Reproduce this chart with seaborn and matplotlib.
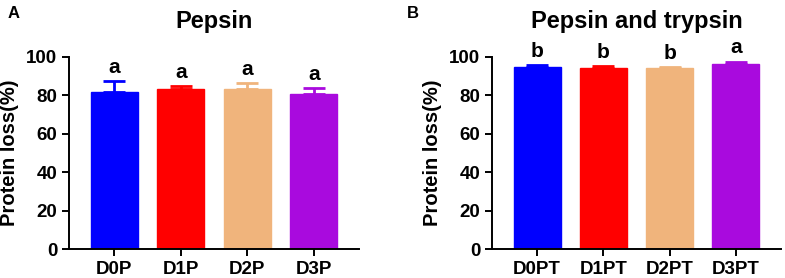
import matplotlib
matplotlib.use("Agg")
import matplotlib.pyplot as plt
import seaborn as sns
import pandas as pd

sns.set_style("ticks")
plt.rcParams['font.family'] = ['Liberation Sans', 'DejaVu Sans']
plt.rcParams['font.weight'] = 'bold'
plt.rcParams['text.color'] = 'black'
plt.rcParams['axes.labelcolor'] = 'black'

cats_a = ["D0P", "D1P", "D2P", "D3P"]
vals_a = [81.9, 83.1, 83.3, 80.6]
err_a = [5.6, 1.6, 3.2, 3.3]
sig_a = ["a", "a", "a", "a"]

cats_b = ["D0PT", "D1PT", "D2PT", "D3PT"]
vals_b = [94.9, 94.4, 94.1, 96.4]
err_b = [0.7, 0.7, 0.6, 1.2]
sig_b = ["b", "b", "b", "a"]

colors = ["#0000FF", "#FF0000", "#F0B47C", "#A90ADE"]

titles = ["Pepsin", "Pepsin and trypsin"]
panel_letters = ["A", "B"]
yticks = [0, 20, 40, 60, 80, 100]

fig = plt.figure(figsize=(7.85, 2.78), dpi=100)
ax_a = fig.add_axes([69/785, 1-249/278, 290/785, 192/278])
ax_b = fig.add_axes([492/785, 1-249/278, 289/785, 192/278])

panels = [(ax_a, cats_a, vals_a, err_a, sig_a), (ax_b, cats_b, vals_b, err_b, sig_b)]
for k, (ax, cats, vals, errs, sigs) in enumerate(panels):
    df = pd.DataFrame({"cat": cats, "val": vals})
    sns.barplot(data=df, x="cat", y="val", hue="cat", palette=colors,
                width=0.71, ax=ax, legend=False, errorbar=None,
                linewidth=1.0, saturation=1)
    for p, c in zip(ax.patches, colors):
        p.set_edgecolor(c)
    for i, (v, e, c) in enumerate(zip(vals, errs, colors)):
        ax.errorbar(i, v, yerr=[[0], [e]], color=c, capsize=8, capthick=2,
                    elinewidth=2, fmt='none')
    for i, (v, e, s) in enumerate(zip(vals, errs, sigs)):
        ax.annotate(s, (i, v + e), xytext=(0, 3), textcoords="offset points",
                    ha="center", va="bottom", fontsize=15, fontweight="bold",
                    color="black")
    ax.set_xlim(-0.68, 3.68)
    ax.set_ylim(0, 100)
    ax.set_yticks(yticks)
    ax.set_xlabel("")
    ax.set_ylabel("Protein loss(%)", fontsize=14.5, fontweight="bold", labelpad=5,
                  color="black")
    ax.set_title(titles[k], fontsize=17, fontweight="bold", pad=21, color="black")
    for sp in ["top", "right"]:
        ax.spines[sp].set_visible(False)
    for sp in ["left", "bottom"]:
        ax.spines[sp].set_linewidth(1.4)
        ax.spines[sp].set_color("black")
    ax.tick_params(axis="both", width=1.4, length=5, labelsize=13.5, colors="black")
    for lab in ax.get_xticklabels() + ax.get_yticklabels():
        lab.set_fontweight("bold")

fig.text(8/785, 1-14/278, "A", fontsize=12, fontweight="bold", va="center", ha="left")
fig.text(407/785, 1-14/278, "B", fontsize=12, fontweight="bold", va="center", ha="left")

fig.savefig("out.png", dpi=100)
